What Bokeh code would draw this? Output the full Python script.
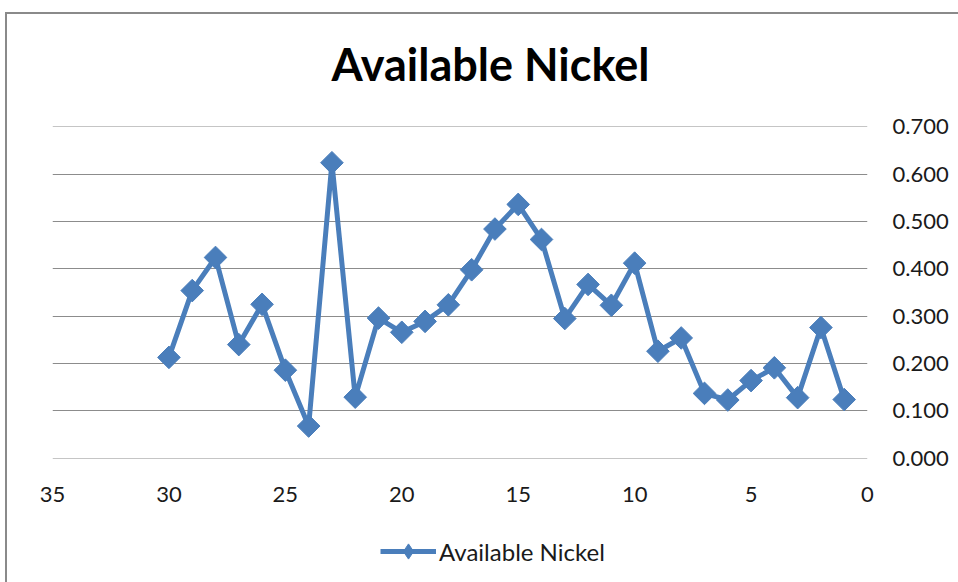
import math
from bokeh.plotting import figure
from bokeh.layouts import column
from bokeh.models import Range1d, NumeralTickFormatter, FixedTicker, Legend, LegendItem, Label
from bokeh.embed import file_html
from bokeh.resources import INLINE

# data
samples = [30, 29, 28, 27, 26, 25, 24, 23, 22, 21, 20, 19, 18, 17, 16,
           15, 14, 13, 12, 11, 10, 9, 8, 7, 6, 5, 4, 3, 2, 1]
nickel = [0.213, 0.354, 0.424, 0.240, 0.325, 0.186, 0.068, 0.624, 0.129, 0.296,
          0.266, 0.289, 0.324, 0.398, 0.484, 0.536, 0.462, 0.295, 0.367, 0.323,
          0.412, 0.226, 0.254, 0.137, 0.123, 0.164, 0.191, 0.128, 0.276, 0.124]
x_ticks = [35, 30, 25, 20, 15, 10, 5, 0]
y_ticks = [0.0, 0.1, 0.2, 0.3, 0.4, 0.5, 0.6, 0.7]
series_name = "Available Nickel"
title_text = "Available Nickel"

BLUE = "#4a7ebb"
GRID = "#8c8c8c"
FONT = "Lato"
TXT = "#1a1a1a"

# title strip
p0 = figure(width=951, height=80, output_backend="svg", toolbar_location=None,
            x_range=Range1d(0, 1), y_range=Range1d(0, 1),
            x_axis_location=None, y_axis_location=None,
            min_border=0, min_border_left=0, min_border_right=0,
            min_border_top=0, min_border_bottom=0)
p0.grid.visible = False
p0.outline_line_color = None
p0.background_fill_color = "white"
p0.border_fill_color = "white"
p0.add_layout(Label(x=438, y=31, x_units="screen", y_units="screen", text=title_text,
                    text_align="center", text_baseline="middle", text_font=FONT,
                    text_font_size="45px", text_font_style="bold", text_color="black"))

p = figure(width=951, height=414, output_backend="svg", toolbar_location=None,
           x_range=Range1d(35, 0), y_range=Range1d(-0.0005, 0.7005),
           y_axis_location="right",
           min_border_left=45, min_border_right=91, min_border_top=32, min_border_bottom=50)
p.outline_line_color = None
p.background_fill_color = "white"
p.border_fill_color = "white"

p.xgrid.visible = False
p.ygrid.ticker = FixedTicker(ticks=y_ticks)
p.ygrid.grid_line_color = GRID
p.ygrid.grid_line_width = 1

xa = p.xaxis[0]
xa.ticker = FixedTicker(ticks=x_ticks)
xa.axis_line_color = None
xa.major_tick_line_color = None
xa.minor_tick_line_color = None
xa.major_label_text_font = FONT
xa.major_label_text_font_size = "22px"
xa.major_label_text_color = TXT
xa.major_label_standoff = 22

ya = p.yaxis[0]
ya.ticker = FixedTicker(ticks=y_ticks)
ya.formatter = NumeralTickFormatter(format="0.000")
ya.axis_line_color = None
ya.major_tick_line_color = None
ya.minor_tick_line_color = None
ya.major_label_text_font = FONT
ya.major_label_text_font_size = "22px"
ya.major_label_text_color = TXT
ya.major_label_standoff = 19

p.line(samples, nickel, line_color=BLUE, line_width=5)
p.scatter(samples, nickel, marker="square", angle=math.pi / 4, size=16,
          fill_color=BLUE, line_color=BLUE)

# legend strip below the chart
p2 = figure(width=951, height=74, output_backend="svg", toolbar_location=None,
            x_range=Range1d(100, 200), y_range=Range1d(100, 200),
            min_border=0, min_border_left=0, min_border_right=0,
            min_border_top=0, min_border_bottom=0)
p2.axis.visible = False
p2.grid.visible = False
p2.outline_line_color = None
p2.background_fill_color = "white"
p2.border_fill_color = "white"
ln2 = p2.line(samples, nickel, line_color=BLUE, line_width=5)
sc2 = p2.scatter(samples, nickel, marker="diamond", size=16,
                 fill_color=BLUE, line_color=BLUE)
legend = Legend(items=[LegendItem(label=series_name, renderers=[ln2, sc2])],
                location=(328, 12), orientation="horizontal",
                border_line_color=None, background_fill_alpha=0,
                padding=0, margin=0, glyph_width=56, glyph_height=38,
                label_text_font=FONT, label_text_font_size="24px",
                label_standoff=3, label_text_color=TXT)
p2.add_layout(legend, "center")

layout = column(p0, p, p2, spacing=0)
layout.styles = {"margin-left": "5px", "margin-top": "12px",
                 "border-left": "2px solid #8a8a8a", "border-top": "2px solid #8a8a8a"}

open("out.html", "w").write(file_html(layout, INLINE))
